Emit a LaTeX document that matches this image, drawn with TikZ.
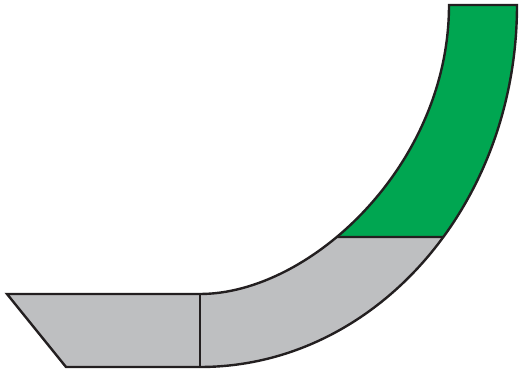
\documentclass[tikz,border=0pt]{standalone}
\usetikzlibrary{intersections}
\definecolor{bandGray}{RGB}{190,191,193}
\definecolor{bandGreen}{RGB}{0,166,81}
\definecolor{bandLine}{RGB}{35,31,32}

\begin{document}
\begin{tikzpicture}[x=1pt, y=1pt, line width=2.4pt]
        \useasboundingbox (0,0) rectangle (520,377);
        \def\bandpath{(7,83)--(200,83)
              .. controls (310,83) and (449,212) .. (449,372)
              --(517,372)
              .. controls (517,172) and (375,10) .. (200,10)
              --(66,10)--cycle}
        \path[name path=inner](200,83) .. controls (310,83) and (449,212) .. (449,372);
        \path[name path=outer](517,372) .. controls (517,172) and (375,10) .. (200,10);
        \path[name path=cutline](300,140)--(520,140);
        \path[name intersections={of=inner and cutline, by=innerCut}];
        \path[name intersections={of=outer and cutline, by=outerCut}];
        % gray part, green part on top
        \fill[bandGray]\bandpath;
        \begin{scope}
          \clip(0,140) rectangle (520,377);
          \fill[bandGreen]\bandpath;
        \end{scope}
        % outlines
        \draw[bandLine]\bandpath;
        \draw[bandLine](innerCut)--(outerCut);
        \draw[bandLine](200,83)--(200,10);
      \end{tikzpicture}
\end{document}
